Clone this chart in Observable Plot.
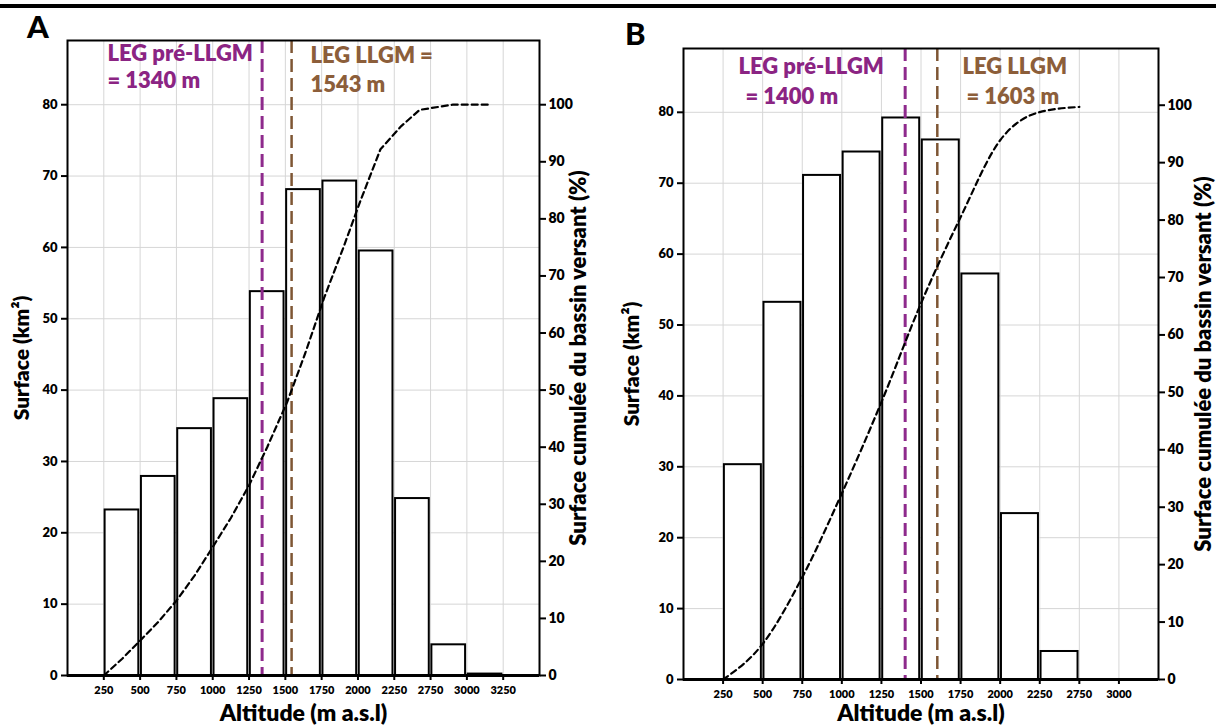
<!DOCTYPE html>
<html>
<head>
<meta charset="utf-8">
<script src="https://cdn.jsdelivr.net/npm/d3@7"></script>
<script src="https://cdn.jsdelivr.net/npm/@observablehq/plot@0.6"></script>
<style>
  html, body { margin: 0; padding: 0; background: #fff; }
  body { width: 1216px; height: 725px; position: relative; overflow: hidden; font-family: Lato, "Open Sans", sans-serif; }
  .rule { position: absolute; left: 0; top: 4px; width: 1216px; height: 4px; background: #000; z-index: 10; }
  .panel { position: absolute; top: 0; z-index: 1; }
  .letter { position: absolute; z-index: 10; font-family: Lato, sans-serif; font-weight: 900; font-size: 31px; line-height: 1; color: #000; }
</style>
</head>
<body>
<div class="rule"></div>
<div class="letter" style="left:27px; top:11px;">A</div>
<div class="letter" style="left:625px; top:18px;">B</div>
<div id="pa" class="panel" style="left:0px;"></div>
<div id="pb" class="panel" style="left:608px;"></div>
<script>
// ---------- data ----------
// Panel A
const edgeLabelsA = ["250", "500", "750", "1000", "1250", "1500", "1750", "2000", "2250", "2750", "3000", "3250"];
const surfaceA = [23.2, 27.9, 34.6, 38.8, 53.8, 68.1, 69.3, 59.5, 24.8, 4.3, 0.2];
const cumPosA = [0, 0.5, 1, 1.5, 2, 2.5, 3, 3.5, 4, 4.5, 5.05, 5.55, 6.07, 6.6, 7.07, 7.62, 8.2, 8.7, 9.6, 10.65];
const cumPctA = [0, 2.9, 6.1, 9.4, 13.1, 17.5, 22.5, 27.6, 33.3, 40.0, 47.9, 56.5, 66.2, 75.0, 83.2, 92.2, 96.3, 99.1, 100, 100];
const legPreA = 1340;
const legLlgmA = 1543;

// Panel B
const edgeLabelsB = ["250", "500", "750", "1000", "1250", "1500", "1750", "2000", "2250", "2750", "3000"];
const surfaceB = [30.3, 53.2, 71.1, 74.4, 79.2, 76.1, 57.2, 23.4, 3.95];
const cumPosB = [0, 1, 2, 3, 4, 5, 6, 7, 8, 9];
const cumPctB = [0, 6.2, 17.8, 32.4, 48.3, 65.5, 80.5, 93.9, 98.8, 99.7];
const legPreB = 1400;
const legLlgmB = 1603;

// Axis ticks
const leftTicks = [0, 10, 20, 30, 40, 50, 60, 70, 80];
const rightTicks = [0, 10, 20, 30, 40, 50, 60, 70, 80, 90, 100];

// ---------- drawing ----------
const PURPLE = "#8B2483";
const BROWN = "#8C5E3A";
const PURPLE_LINE = "#8E2A8C";
const BROWN_LINE = "#7E5634";
const FW = 800;

function altToIndex(alt, labels) {
  const e = labels.map(Number);
  for (let i = 0; i < e.length - 1; i++) {
    if (alt >= e[i] && alt <= e[i + 1]) return i + (alt - e[i]) / (e[i + 1] - e[i]);
  }
  return 0;
}

function panel(cfg) {
  const n = cfg.edges.length;
  const bars = cfg.surface.map((v, i) => ({x1: i, x2: i + 1, v}));
  const cum = cfg.cumX.map((x, i) => ({x, y: cfg.cumPct[i] * cfg.factor}));
  const T = (s) => [s];
  const ann = {textAnchor: "start", lineAnchor: "middle", fontSize: 22, fontWeight: FW, frameAnchor: "top-left", text: d => d};
  return Plot.plot({
    width: cfg.width,
    height: 725,
    marginLeft: cfg.ml,
    marginRight: cfg.mr,
    marginTop: cfg.mt,
    marginBottom: cfg.mb,
    style: {fontFamily: "Lato, 'Open Sans', sans-serif", fontWeight: FW, fontSize: "13px", color: "#000", background: "transparent"},
    x: {domain: [-1, n], axis: null},
    y: {domain: [0, 89], axis: null},
    marks: [
      Plot.gridX(d3.range(n), {stroke: "#d6d6d6", strokeOpacity: 1, strokeWidth: 1}),
      Plot.gridY(leftTicks, {stroke: "#d6d6d6", strokeOpacity: 1, strokeWidth: 1}),
      Plot.rectY(bars, {x1: "x1", x2: "x2", y: "v", fill: "white", stroke: "black", strokeWidth: 2, insetLeft: 1.3, insetRight: 1.3}),
      Plot.ruleX([altToIndex(cfg.legPre, cfg.edges)], {stroke: PURPLE_LINE, strokeWidth: 3, strokeDasharray: "13,6"}),
      Plot.ruleX([altToIndex(cfg.legLlgm, cfg.edges)], {stroke: BROWN_LINE, strokeWidth: 2.5, strokeDasharray: "13,6"}),
      Plot.line(cum, {x: "x", y: "y", stroke: "black", strokeWidth: 2.2, strokeDasharray: "6,4", curve: cfg.curve}),
      Plot.frame({stroke: "black", strokeWidth: 2}),
      Plot.ruleY([0], {stroke: "black", strokeWidth: 3}),
      Plot.axisY(leftTicks, {anchor: "left", label: null, tickSize: 6, tickPadding: 4, strokeWidth: 2, fontSize: 13}),
      Plot.axisY(rightTicks.map(p => p * cfg.factor), {anchor: "right", label: null, tickSize: 6, tickPadding: 3, strokeWidth: 2, fontSize: 14, tickFormat: d => String(Math.round(d / cfg.factor))}),
      Plot.axisX(d3.range(n), {anchor: "bottom", label: null, tickSize: 5, tickPadding: 6, strokeWidth: 2, fontSize: 11, tickFormat: i => cfg.edges[i]}),
      // axis titles
      Plot.text(T("Surface (km²)"), {text: d => d, frameAnchor: "left", textAnchor: "middle", dx: cfg.leftLabelDx, rotate: -90, fontSize: 21, fontWeight: FW}),
      Plot.text(T("Surface cumulée du bassin versant (%)"), {text: d => d, frameAnchor: "right", textAnchor: "middle", dx: cfg.rightLabelDx, rotate: -90, fontSize: 22, fontWeight: FW}),
      Plot.text(T("Altitude (m a.s.l)"), {text: d => d, frameAnchor: "bottom", textAnchor: "middle", dy: cfg.xLabelDy, fontSize: 23, fontWeight: FW, lineAnchor: "middle"}),
      // LEG annotations
      Plot.text(T(cfg.pre1), {...ann, dx: cfg.pre[0], dy: cfg.pre[1], fill: PURPLE}),
      Plot.text(T(cfg.pre2), {...ann, dx: cfg.pre[2], dy: cfg.pre[3], fill: PURPLE}),
      Plot.text(T(cfg.llgm1), {...ann, dx: cfg.llgm[0], dy: cfg.llgm[1], fill: BROWN}),
      Plot.text(T(cfg.llgm2), {...ann, dx: cfg.llgm[2], dy: cfg.llgm[3], fill: BROWN})
    ]
  });
}

document.getElementById("pa").appendChild(panel({
  edges: edgeLabelsA, surface: surfaceA, cumX: cumPosA, cumPct: cumPctA,
  legPre: legPreA, legLlgm: legLlgmA, factor: 0.8, curve: "linear",
  width: 608, ml: 67, mr: 69, mt: 40, mb: 50,
  leftLabelDx: -45, rightLabelDx: 39, xLabelDy: 38,
  pre1: "LEG pré-LLGM", pre2: "= " + legPreA + " m",
  llgm1: "LEG LLGM =", llgm2: legLlgmA + " m",
  pre: [40, 13, 40, 40], llgm: [243, 15, 243, 44]
}));

document.getElementById("pb").appendChild(panel({
  edges: edgeLabelsB, surface: surfaceB, cumX: cumPosB, cumPct: cumPctB,
  legPre: legPreB, legLlgm: legLlgmB, factor: 0.81, curve: "monotone-x",
  width: 608, ml: 75, mr: 58, mt: 48, mb: 46,
  leftLabelDx: -51, rightLabelDx: 45, xLabelDy: 34,
  pre1: "LEG pré-LLGM", pre2: "= " + legPreB + " m",
  llgm1: "LEG LLGM", llgm2: "= " + legLlgmB + " m",
  pre: [55, 18, 62, 48], llgm: [279, 18, 283, 48]
}));
</script>
</body>
</html>
